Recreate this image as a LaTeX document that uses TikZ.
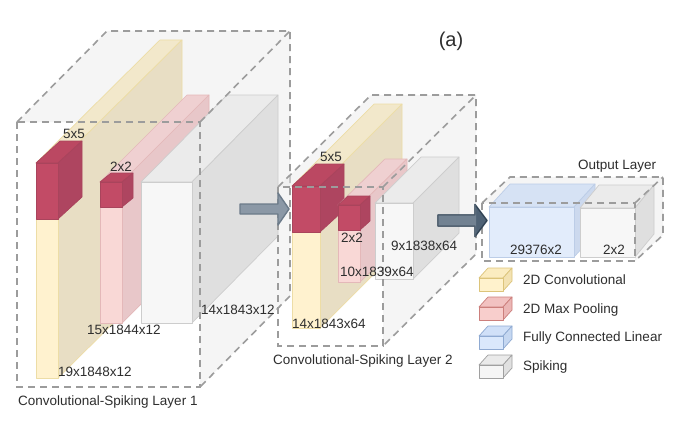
\documentclass[tikz,border=0pt]{standalone}
\usepackage{fontspec}
\setmainfont{Liberation Sans}
% block colours: F front, T top, S side, D stroke
\definecolor{yelF}{HTML}{FFF2CF}
\definecolor{yelT}{HTML}{F2E8CB}
\definecolor{yelS}{HTML}{E8DEC4}
\definecolor{yelD}{HTML}{EDDDA6}
\definecolor{redF}{HTML}{C24B66}
\definecolor{redT}{HTML}{BB4862}
\definecolor{redS}{HTML}{AE4560}
\definecolor{redD}{HTML}{A9445C}
\definecolor{pnkF}{HTML}{F9D8D6}
\definecolor{pnkT}{HTML}{EFD0D1}
\definecolor{pnkS}{HTML}{E8C7C9}
\definecolor{pnkD}{HTML}{E4B8B9}
\definecolor{whtF}{HTML}{F7F7F7}
\definecolor{whtT}{HTML}{EBEBEB}
\definecolor{whtS}{HTML}{DFDFDF}
\definecolor{whtD}{HTML}{CDCDCD}
\definecolor{bluF}{HTML}{E2ECFB}
\definecolor{bluT}{HTML}{D6E2F4}
\definecolor{bluS}{HTML}{CCD9EE}
\definecolor{bluD}{HTML}{BCCDE7}
% legend icon colours
\definecolor{lyF}{HTML}{FFF2CC}
\definecolor{lyT}{HTML}{FBECC0}
\definecolor{lyS}{HTML}{F3E2B2}
\definecolor{lyD}{HTML}{DCC47A}
\definecolor{lrF}{HTML}{F8CECC}
\definecolor{lrT}{HTML}{F2C2C1}
\definecolor{lrS}{HTML}{EBB6B5}
\definecolor{lrD}{HTML}{CC7F7C}
\definecolor{lbF}{HTML}{DAE8FC}
\definecolor{lbT}{HTML}{D0E0F8}
\definecolor{lbS}{HTML}{C5D7F1}
\definecolor{lbD}{HTML}{8FAAD2}
\definecolor{lgF}{HTML}{F5F5F5}
\definecolor{lgT}{HTML}{EAEAEA}
\definecolor{lgS}{HTML}{E0E0E0}
\definecolor{lgD}{HTML}{A0A0A0}
\definecolor{txt}{HTML}{2E2E2E}
\definecolor{dashc}{HTML}{9C9C9C}
\definecolor{facec}{HTML}{EDEDED}
\definecolor{arrDF}{HTML}{4F6275}
\definecolor{arrDD}{HTML}{314354}
\definecolor{arrMF}{HTML}{728292}
\definecolor{arrMD}{HTML}{4E5E6E}
\definecolor{arrLF}{HTML}{8B98A6}
\definecolor{arrLD}{HTML}{6C7B8A}

% cuboid: x y w h dx dy colourprefix  (pixel coords, y down)
\newcommand\cuboid[7]{%
  \filldraw[fill=#7T,draw=#7D,blk] (#1,#2) -- ({#1+#5},{#2-#6}) -- ({#1+#3+#5},{#2-#6}) -- ({#1+#3},#2) -- cycle;
  \filldraw[fill=#7S,draw=#7D,blk] ({#1+#3},#2) -- ({#1+#3+#5},{#2-#6}) -- ({#1+#3+#5},{#2+#4-#6}) -- ({#1+#3},{#2+#4}) -- cycle;
  \filldraw[fill=#7F,draw=#7D,blk] (#1,#2) rectangle ({#1+#3},{#2+#4});
}
\newcommand\layerfaces[6]{%
  \fill[face] (#1,#2) -- ({#1+#5},{#2-#6}) -- ({#1+#3+#5},{#2-#6}) -- ({#1+#3},#2) -- cycle;
  \fill[face] ({#1+#3},#2) -- ({#1+#3+#5},{#2-#6}) -- ({#1+#3+#5},{#2+#4-#6}) -- ({#1+#3},{#2+#4}) -- cycle;
}
\newcommand\layeredges[6]{%
  \draw[dsh] (#1,#2) rectangle ({#1+#3},{#2+#4});
  \draw[dsh] (#1,#2) -- ({#1+#5},{#2-#6}) -- ({#1+#3+#5},{#2-#6}) -- ({#1+#3+#5},{#2+#4-#6}) -- ({#1+#3},{#2+#4});
  \draw[dsh] ({#1+#3},#2) -- ({#1+#3+#5},{#2-#6});
}
% block arrow: start end shaftlen halfshaft headlen halfhead style
\newcommand\blockarrow[7]{%
  \filldraw[#7] (#1) ++(0,-#4) -- ++(#3,0) -- ++(0,{-(#6-#4)}) -- (#2) -- ++(-#5,#6) -- ++(0,{-(#6-#4)}) -- ++(-#3,0) -- cycle;
}

\begin{document}
\begin{tikzpicture}[x=1pt,y=-1pt,
  blk/.style={line width=0.7pt,line join=round},
  face/.style={fill=facec,fill opacity=0.55},
  dsh/.style={draw=dashc,line width=1.6pt,dash pattern=on 7pt off 5pt},
  lbl/.style={inner sep=0pt,text=txt,font=\fontsize{13.5}{16}\selectfont},
  arrdark/.style={fill=arrDF,draw=arrDD,line width=1.4pt,line join=round},
  arrmid/.style={fill=arrMF,draw=arrMD,line width=1.4pt,line join=round},
  arrlight/.style={fill=arrLF,draw=arrLD,line width=1.4pt,line join=round}]
\fill[white] (0,0) rectangle (674,428);
\useasboundingbox (0,0) rectangle (674,428);

% ---------------- Layer 1 ----------------
\layerfaces{17}{122}{183}{265}{90}{91}
\cuboid{36}{163}{22}{215}{124}{123}{yel}
\cuboid{36}{163}{22}{56}{24}{22}{red}
\cuboid{100}{182}{22}{141}{87}{87}{pnk}
\cuboid{100}{182}{22}{25}{11}{9}{red}
\cuboid{141}{182}{51}{141}{86}{87}{wht}
\layeredges{17}{122}{183}{265}{90}{91}

% ---------------- Layer 2 ----------------
\layerfaces{278}{187}{105}{159}{93}{92}
\cuboid{292}{186}{28}{142}{82}{82}{yel}
\cuboid{292}{186}{28}{46}{24}{22}{red}
\cuboid{338}{205}{22}{77}{47}{46}{pnk}
\cuboid{338}{205}{22}{25}{10}{9}{red}
\cuboid{375}{203}{38}{76}{46}{46}{wht}
\layeredges{278}{187}{105}{159}{93}{92}

% ---------------- Output layer ----------------
\layerfaces{482}{203}{153}{58}{28}{26}
\cuboid{489}{207}{85}{50}{21}{23}{blu}
\cuboid{580}{208}{55}{49}{19}{23}{wht}
\layeredges{482}{203}{153}{58}{28}{26}

% ---------------- arrows between layers ----------------
\coordinate (a1s) at (240,209);
\coordinate (a1e) at (289,209);
\coordinate (a2s) at (438,220.5);
\coordinate (a2e) at (487,220.5);
\blockarrow{a1s}{a1e}{38}{5}{11}{16}{arrlight}
\blockarrow{a2s}{a2e}{37}{5.5}{12}{16}{arrdark}
\begin{scope}
  \clip (383,187) -- (476,95) -- (476,254) -- (383,346) -- cycle;
  \blockarrow{a2s}{a2e}{37}{5.5}{12}{16}{arrmid}
\end{scope}

% ---------------- labels ----------------
\node[lbl,anchor=west] (k1) at (63,134) {5x5};
\node[lbl,anchor=west] (p1) at (110,167) {2x2};
\node[lbl,anchor=west] (d15) at (87,330) {15x1844x12};
\node[lbl,anchor=west] (d19) at (58,372) {19x1848x12};
\node[lbl,anchor=west] (d14) at (201,310) {14x1843x12};
\node[lbl,anchor=west] (t1) at (18,402) {Convolutional-Spiking Layer 1};

\node[lbl,anchor=west] (k2) at (320,157) {5x5};
\node[lbl,anchor=west] (p2) at (341,238) {2x2};
\node[lbl,anchor=west] (d9) at (391,246) {9x1838x64};
\node[lbl,anchor=west] (d10) at (340,272) {10x1839x64};
\node[lbl,anchor=west] (d14b) at (292,324) {14x1843x64};
\node[lbl,anchor=west] (t2) at (273,361) {Convolutional-Spiking Layer 2};

\node[lbl,anchor=west] (t3) at (578,166) {Output Layer};
\node[lbl,anchor=west] (fc) at (510,250) {29376x2};
\node[lbl,anchor=west] (o2) at (603,250) {2x2};

\node[inner sep=0pt,text=txt,font=\fontsize{20}{24}\selectfont] (cap) at (451,41) {(a)};

% ---------------- legend ----------------
\cuboid{479}{278}{24}{13}{9}{10}{ly}
\cuboid{479}{307}{24}{13}{9}{10}{lr}
\cuboid{479}{336}{24}{13}{9}{10}{lb}
\cuboid{479}{365}{24}{13}{9}{10}{lg}
\node[lbl,anchor=west] (lg1) at (523,280) {2D Convolutional};
\node[lbl,anchor=west] (lg2) at (523,310) {2D Max Pooling};
\node[lbl,anchor=west] (lg3) at (523,338) {Fully Connected Linear};
\node[lbl,anchor=west] (lg4) at (523,367) {Spiking};
\end{tikzpicture}
\end{document}
